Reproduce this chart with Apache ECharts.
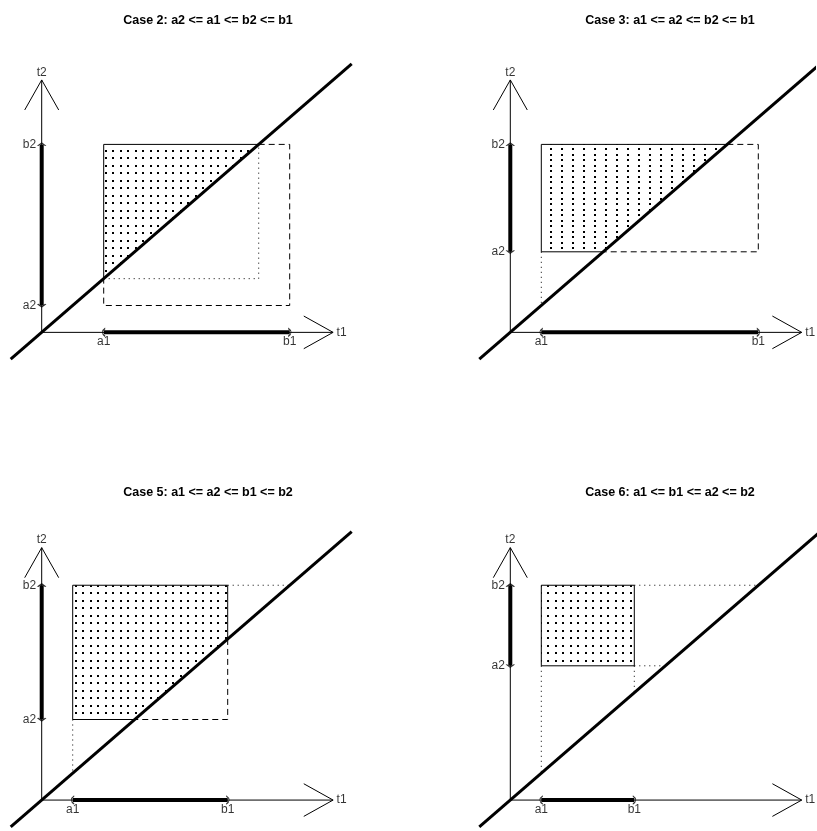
<!DOCTYPE html>
<html>
<head>
<meta charset="utf-8">
<script src="https://cdn.jsdelivr.net/npm/echarts@6/dist/echarts.min.js"></script>
<style>html,body{margin:0;padding:0;background:#fff}#chart{width:817px;height:831px}</style>
</head>
<body>
<div id="chart"></div>
<script>
// values of the four cases
var caseTitles = [
    'Case 2: a2 <= a1 <= b2 <= b1',
    'Case 3: a1 <= a2 <= b2 <= b1',
    'Case 5: a1 <= a2 <= b1 <= b2',
    'Case 6: a1 <= b1 <= a2 <= b2'
];
var a1Vals = [1, 0.5, 0.5, 0.5];
var b1Vals = [4, 4, 3, 2];
var a2Vals = [0.5, 1.5, 1.5, 2.5];
var b2Vals = [3.5, 3.5, 4, 4];
var diagEnds = [-0.5, 5];
var axisLen = 4.7;
var xRanges = [[-0.6, 5.2], [-0.6, 4.9], [-0.6, 5.2], [-0.6, 4.94]];
var yRange = [-0.55, 5.2];

var FONT = '"Liberation Sans", Arial, sans-serif';

// 62 px per unit across, 53.7 px per unit up
var grids = [
    { left: 4.5, top: 53.1, width: 359.6, height: 308.8 },
    { left: 473.1, top: 53.1, width: 341, height: 308.8 },
    { left: 4.5, top: 520.8, width: 359.6, height: 308.8 },
    { left: 473.1, top: 520.8, width: 343.5, height: 308.8 }
];
var titlePos = [[208, 14], [670, 14], [208, 486], [670, 486]];

function dotPattern(w, h, pts) {
    var c = document.createElement('canvas');
    c.width = w; c.height = h;
    var ctx = c.getContext('2d');
    ctx.fillStyle = '#000';
    pts.forEach(function (p) { ctx.fillRect(p[0], p[1], 2, 2); });
    return { image: c, repeat: 'repeat' };
}
var gridDots = dotPattern(15, 15, [[0, 0], [7, 0], [0, 7], [7, 7]]);
var colDots = dotPattern(11, 11, [[0, 0], [0, 5]]);

var series = [];

function addLine(i, pts, width, type) {
    series.push({
        type: 'line', xAxisIndex: i, yAxisIndex: i,
        data: pts, symbol: 'none', silent: true, animation: false,
        lineStyle: { color: '#000', width: width, type: type || 'solid' }
    });
}

function addFill(i, poly, pattern) {
    series.push({
        type: 'custom', xAxisIndex: i, yAxisIndex: i, silent: true, animation: false,
        data: [[0, 0]],
        renderItem: function (params, api) {
            return {
                type: 'polygon',
                shape: { points: poly.map(function (p) { return api.coord(p); }) },
                style: { fill: pattern, stroke: null }
            };
        }
    });
}

var DASH = [6, 4];
var DOT = [1, 4];

for (var i = 0; i < 4; i++) {
    var a1 = a1Vals[i], b1 = b1Vals[i], a2 = a2Vals[i], b2 = b2Vals[i];

    // feasible region, its borders and guide lines
    if (i === 0) {
        addFill(i, [[a1, a1], [a1, b2], [b2, b2]], gridDots);
        addLine(i, [[a1, a1], [b2, a1], [b2, b2]], 1, DOT);
        addLine(i, [[b2, b2], [b1, b2], [b1, a2], [a1, a2], [a1, a1]], 1, DASH);
        addLine(i, [[a1, a1], [a1, b2], [b2, b2]], 1);
    } else if (i === 1) {
        addFill(i, [[a1, a2], [a1, b2], [b2, b2], [a2, a2]], colDots);
        addLine(i, [[a1, a2], [a1, a1]], 1, DOT);
        addLine(i, [[b2, b2], [b1, b2], [b1, a2], [a2, a2]], 1, DASH);
        addLine(i, [[a2, a2], [a1, a2], [a1, b2], [b2, b2]], 1);
    } else if (i === 2) {
        addFill(i, [[a1, a2], [a1, b2], [b1, b2], [b1, b1], [a2, a2]], gridDots);
        addLine(i, [[a1, a2], [a1, a1]], 1, DOT);
        addLine(i, [[b1, b2], [b2, b2]], 1, DOT);
        addLine(i, [[b1, b1], [b1, a2], [a2, a2]], 1, DASH);
        addLine(i, [[a2, a2], [a1, a2], [a1, b2], [b1, b2], [b1, b1]], 1);
    } else {
        addFill(i, [[a1, a2], [a1, b2], [b1, b2], [b1, a2]], gridDots);
        addLine(i, [[a1, a2], [a1, a1]], 1, DOT);
        addLine(i, [[b1, a2], [b1, b1]], 1, DOT);
        addLine(i, [[b1, b2], [b2, b2]], 1, DOT);
        addLine(i, [[b1, a2], [a2, a2]], 1, DOT);
        addLine(i, [[a1, a2], [a1, b2], [b1, b2], [b1, a2], [a1, a2]], 1);
    }

    // axes with open arrow heads
    addLine(i, [[0, 0], [axisLen, 0]], 1);
    addLine(i, [[0, 0], [0, axisLen]], 1);
    addLine(i, [[axisLen - 0.473, 0.304], [axisLen, 0], [axisLen - 0.473, -0.304]], 1);
    addLine(i, [[-0.274, axisLen - 0.559], [0, axisLen], [0.274, axisLen - 0.559]], 1);

    // diagonal t1 = t2
    addLine(i, [[diagEnds[0], diagEnds[0]], [diagEnds[1], diagEnds[1]]], 3);

    // interval bars on the axes
    addLine(i, [[a1, 0], [b1, 0]], 4);
    addLine(i, [[0, a2], [0, b2]], 4);

    // bar end marks
    series.push({
        type: 'scatter', xAxisIndex: i, yAxisIndex: i, silent: true, animation: false,
        itemStyle: { color: 'none', borderColor: '#000', borderWidth: 1 },
        data: [
            { value: [a1, 0], symbol: 'path://M3,0 Q0,4 3,8', symbolSize: [3, 8] },
            { value: [b1, 0], symbol: 'path://M0,0 Q3,4 0,8', symbolSize: [3, 8] },
            { value: [0, b2], symbol: 'path://M0,3 L4,0 L8,3', symbolSize: [8, 3] },
            { value: [0, a2], symbol: 'path://M0,0 L4,3 L8,0', symbolSize: [8, 3] }
        ]
    });

    // text labels
    series.push({
        type: 'scatter', xAxisIndex: i, yAxisIndex: i, silent: true, animation: false,
        symbolSize: 1, itemStyle: { color: 'transparent' },
        label: { show: true, formatter: '{b}', color: '#000', fontSize: 12, fontFamily: FONT },
        data: [
            { name: 'a1', value: [a1, 0], label: { position: 'bottom', distance: 3 } },
            { name: 'b1', value: [b1, 0], label: { position: 'bottom', distance: 3 } },
            { name: 'a2', value: [0, a2], label: { position: 'left', distance: 5 } },
            { name: 'b2', value: [0, b2], label: { position: 'left', distance: 5 } },
            { name: 't1', value: [axisLen, 0], label: { position: 'right', distance: 3 } },
            { name: 't2', value: [0, axisLen], label: { position: 'top', distance: 1 } }
        ]
    });
}

var chart = echarts.init(document.getElementById('chart'), null, { renderer: 'canvas' });
chart.setOption({
    backgroundColor: '#fff',
    animation: false,
    grid: grids.map(function (g) {
        return Object.assign({ outerBoundsMode: 'none', containLabel: false }, g);
    }),
    xAxis: xRanges.map(function (r, i) {
        return { type: 'value', gridIndex: i, min: r[0], max: r[1], show: false };
    }),
    yAxis: grids.map(function (g, i) {
        return { type: 'value', gridIndex: i, min: yRange[0], max: yRange[1], show: false };
    }),
    graphic: caseTitles.map(function (t, i) {
        return {
            type: 'text', x: titlePos[i][0], y: titlePos[i][1], silent: true,
            style: { text: t, textAlign: 'center', fill: '#000', font: 'bold 12.5px ' + FONT }
        };
    }),
    series: series
});
</script>
</body>
</html>
